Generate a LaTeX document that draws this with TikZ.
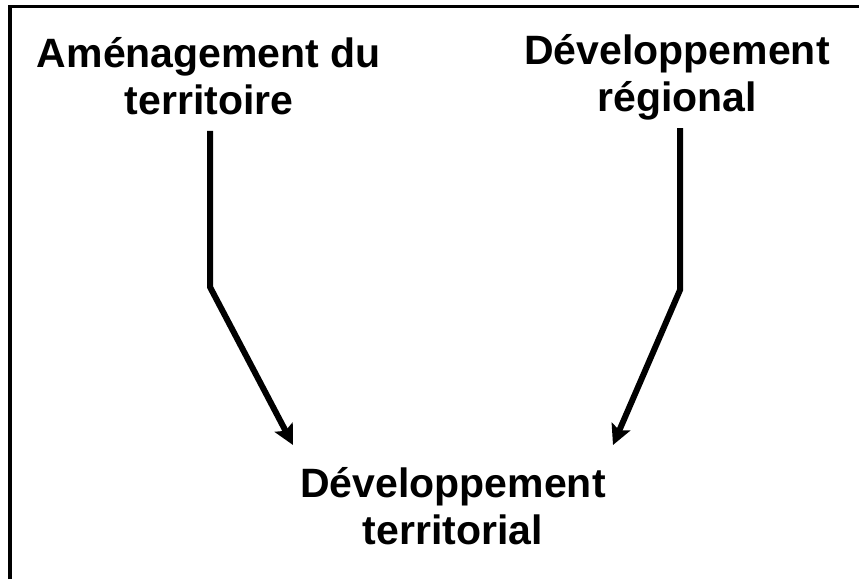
\documentclass[tikz,border=0pt]{standalone}
\usepackage{fontspec}
\setmainfont{Liberation Sans}
\usetikzlibrary{arrows.meta}
\begin{document}
\begin{tikzpicture}[x=0.03cm, y=-0.03cm,
    term/.style={align=center, inner sep=0pt, font=\bfseries\fontsize{35}{40}\selectfont},
    link/.style={line width=0.18cm, -{Stealth[length=0.6cm, width=0.6cm, inset=0.12cm]}}]
    \useasboundingbox (0,0) rectangle (859,579) ;
    \draw[line width=0.1cm] (10,579) -- (10,6.5) -- (859,6.5) ;
    \node [term] at (209,76) (amenag) {Aménagement du\\territoire} ;
    \node [term] at (677,77) (devreg) {Développement\\régional} ;
    \node [term] at (453,506) (devterr) {Développement\\territorial} ;
    \coordinate (bendL) at (210,287) ;
    \coordinate (bendR) at (680,290) ;
    \coordinate (tipL) at (293,445) ;
    \coordinate (tipR) at (613,445) ;
    \draw[link] (amenag.south -| bendL) ++(0,16) -- (bendL) -- (tipL) ;
    \draw[link] (devreg.south -| bendR) ++(0,8) -- (bendR) -- (tipR) ;
  \end{tikzpicture}
\end{document}
